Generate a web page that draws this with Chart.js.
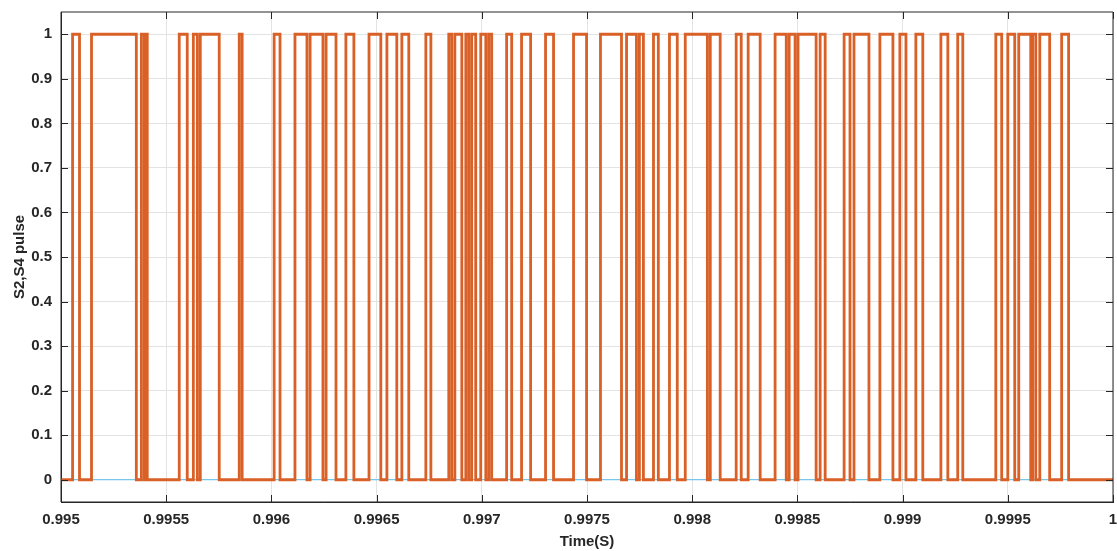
<!DOCTYPE html>
<html>
<head>
<meta charset="utf-8">
<script src="https://cdn.jsdelivr.net/npm/chart.js@4.4.1/dist/chart.umd.min.js"></script>
<style>
	body { margin: 0; background: #fff; }
	#wrap { width: 1117px; height: 551px; }
</style>
</head>
<body>
<div id="wrap"><canvas id="PulseChart"></canvas></div>
<script>
'use strict';

// switching instants (seconds)
const riseTimes = [
	0.995055, 0.995145, 0.995382, 0.995401, 0.995562, 0.995629, 0.995662, 0.995847,
	0.996013, 0.996112, 0.996184, 0.996260, 0.996354, 0.996464, 0.996549, 0.996620,
	0.996734, 0.996843, 0.996872, 0.996924, 0.996952, 0.996995, 0.997033, 0.997118,
	0.997189, 0.997303, 0.997436, 0.997564, 0.997688, 0.997749, 0.997816, 0.997892,
	0.997967, 0.998086, 0.998209, 0.998266, 0.998394, 0.998461, 0.998503, 0.998608,
	0.998722, 0.998769, 0.998892, 0.998987, 0.999063, 0.999182, 0.999262, 0.999443,
	0.999500, 0.999552, 0.999618, 0.999652, 0.999756
];
const fallTimes = [
	0.995088, 0.995358, 0.995396, 0.995410, 0.995600, 0.995648, 0.995752, 0.995861,
	0.996041, 0.996169, 0.996245, 0.996307, 0.996392, 0.996520, 0.996596, 0.996653,
	0.996758, 0.996857, 0.996905, 0.996938, 0.996971, 0.997019, 0.997047, 0.997142,
	0.997232, 0.997341, 0.997498, 0.997664, 0.997735, 0.997768, 0.997839, 0.997929,
	0.998072, 0.998133, 0.998233, 0.998323, 0.998447, 0.998489, 0.998589, 0.998632,
	0.998750, 0.998840, 0.998954, 0.999016, 0.999096, 0.999215, 0.999286, 0.999471,
	0.999533, 0.999609, 0.999633, 0.999699, 0.999789
];

const xMin = 0.995;
const xMax = 1.0;
const xTicks = [0.995, 0.9955, 0.996, 0.9965, 0.997, 0.9975, 0.998, 0.9985, 0.999, 0.9995, 1.0];
const xTickLabels = ['0.995', '0.9955', '0.996', '0.9965', '0.997', '0.9975', '0.998', '0.9985', '0.999', '0.9995', '1'];
const yTicks = [0, 0.1, 0.2, 0.3, 0.4, 0.5, 0.6, 0.7, 0.8, 0.9, 1];
const yTickLabels = ['0', '0.1', '0.2', '0.3', '0.4', '0.5', '0.6', '0.7', '0.8', '0.9', '1'];
const refLevel = [0, 0];

const axisColor = '#262626';
const fontFamily = '"Liberation Sans", Arial, sans-serif';

function preparePulsePoints() {
	const points = [{ x: xMin, y: 0 }];
	riseTimes.forEach((t, i) => {
		points.push({ x: t, y: 1 });
		points.push({ x: fallTimes[i], y: 0 });
	});
	points.push({ x: xMax, y: 0 });
	return points;
}

function prepareDataSets() {
	let aryDataSets = [];
	aryDataSets.push({
		label: 'S2,S4 pulse',
		data: preparePulsePoints(),
		stepped: true,
		borderColor: 'rgb(217, 96, 38)',
		borderWidth: 2.8,
		pointRadius: 0,
		order: 1,
	});
	aryDataSets.push({
		label: 'ref',
		data: [{ x: xMin, y: refLevel[0] }, { x: xMax, y: refLevel[1] }],
		borderColor: 'rgb(90, 190, 235)',
		borderWidth: 1,
		pointRadius: 0,
		order: 2,
	});
	return aryDataSets;
}

// MATLAB style box with inward ticks
const axesBox = {
	id: 'axesBox',
	afterDraw(chart) {
		const { ctx, chartArea } = chart;
		const { left, right, top, bottom } = chartArea;
		const len = 7;
		ctx.save();
		ctx.strokeStyle = axisColor;
		ctx.lineWidth = 1;
		ctx.beginPath();
		ctx.rect(left, top, right - left, bottom - top);
		chart.scales.x.ticks.forEach((t) => {
			const px = Math.round(chart.scales.x.getPixelForValue(t.value)) + 0.5;
			ctx.moveTo(px, bottom); ctx.lineTo(px, bottom - len);
			ctx.moveTo(px, top); ctx.lineTo(px, top + len);
		});
		chart.scales.y.ticks.forEach((t) => {
			const py = Math.round(chart.scales.y.getPixelForValue(t.value)) + 0.5;
			ctx.moveTo(left, py); ctx.lineTo(left + len, py);
			ctx.moveTo(right, py); ctx.lineTo(right - len, py);
		});
		ctx.stroke();
		ctx.restore();
	}
};

function prepareOptions() {
	const tickFont = { family: fontFamily, size: 15, weight: 'bold' };
	let aryOptions = {
		responsive: true,
		maintainAspectRatio: false,
		animation: false,
		layout: { padding: { left: 11, top: 12, right: 4, bottom: 0 } },
		plugins: {
			legend: { display: false },
			tooltip: { enabled: false },
		},
		scales: {
			x: {
				type: 'linear',
				min: xMin,
				max: xMax,
				afterBuildTicks: (scale) => { scale.ticks = xTicks.map((v) => ({ value: v })); },
				afterFit: (scale) => {
					scale.height = 49;
					scale.paddingLeft = 0;
					scale.paddingRight = 0;
				},
				ticks: {
					autoSkip: false,
					maxRotation: 0,
					padding: 9,
					color: axisColor,
					font: tickFont,
					callback: (v, i) => xTickLabels[i],
				},
				grid: { color: '#e3e3e3', drawTicks: false },
				border: { color: axisColor, width: 1 },
				title: {
					display: true,
					text: 'Time(S)',
					color: axisColor,
					font: { family: fontFamily, size: 15, weight: 'bold' },
					padding: { top: 0, bottom: 0 },
				},
			},
			y: {
				type: 'linear',
				min: -0.05,
				max: 1.05,
				afterBuildTicks: (scale) => { scale.ticks = yTicks.map((v) => ({ value: v })); },
				afterFit: (scale) => {
					scale.width = 50;
					scale.paddingTop = 0;
					scale.paddingBottom = 0;
				},
				ticks: {
					autoSkip: false,
					padding: 9,
					color: axisColor,
					font: tickFont,
					callback: (v, i) => yTickLabels[i],
				},
				grid: { color: '#e3e3e3', drawTicks: false },
				border: { color: axisColor, width: 1 },
				title: {
					display: true,
					text: 'S2,S4 pulse',
					color: axisColor,
					font: { family: fontFamily, size: 15, weight: 'bold' },
					padding: 0,
				},
			},
		},
	};
	return aryOptions;
}

// *** Entry Point ***
new Chart(document.getElementById('PulseChart'), {
	type: 'line',
	data: { datasets: prepareDataSets() },
	options: prepareOptions(),
	plugins: [axesBox],
});
</script>
</body>
</html>
